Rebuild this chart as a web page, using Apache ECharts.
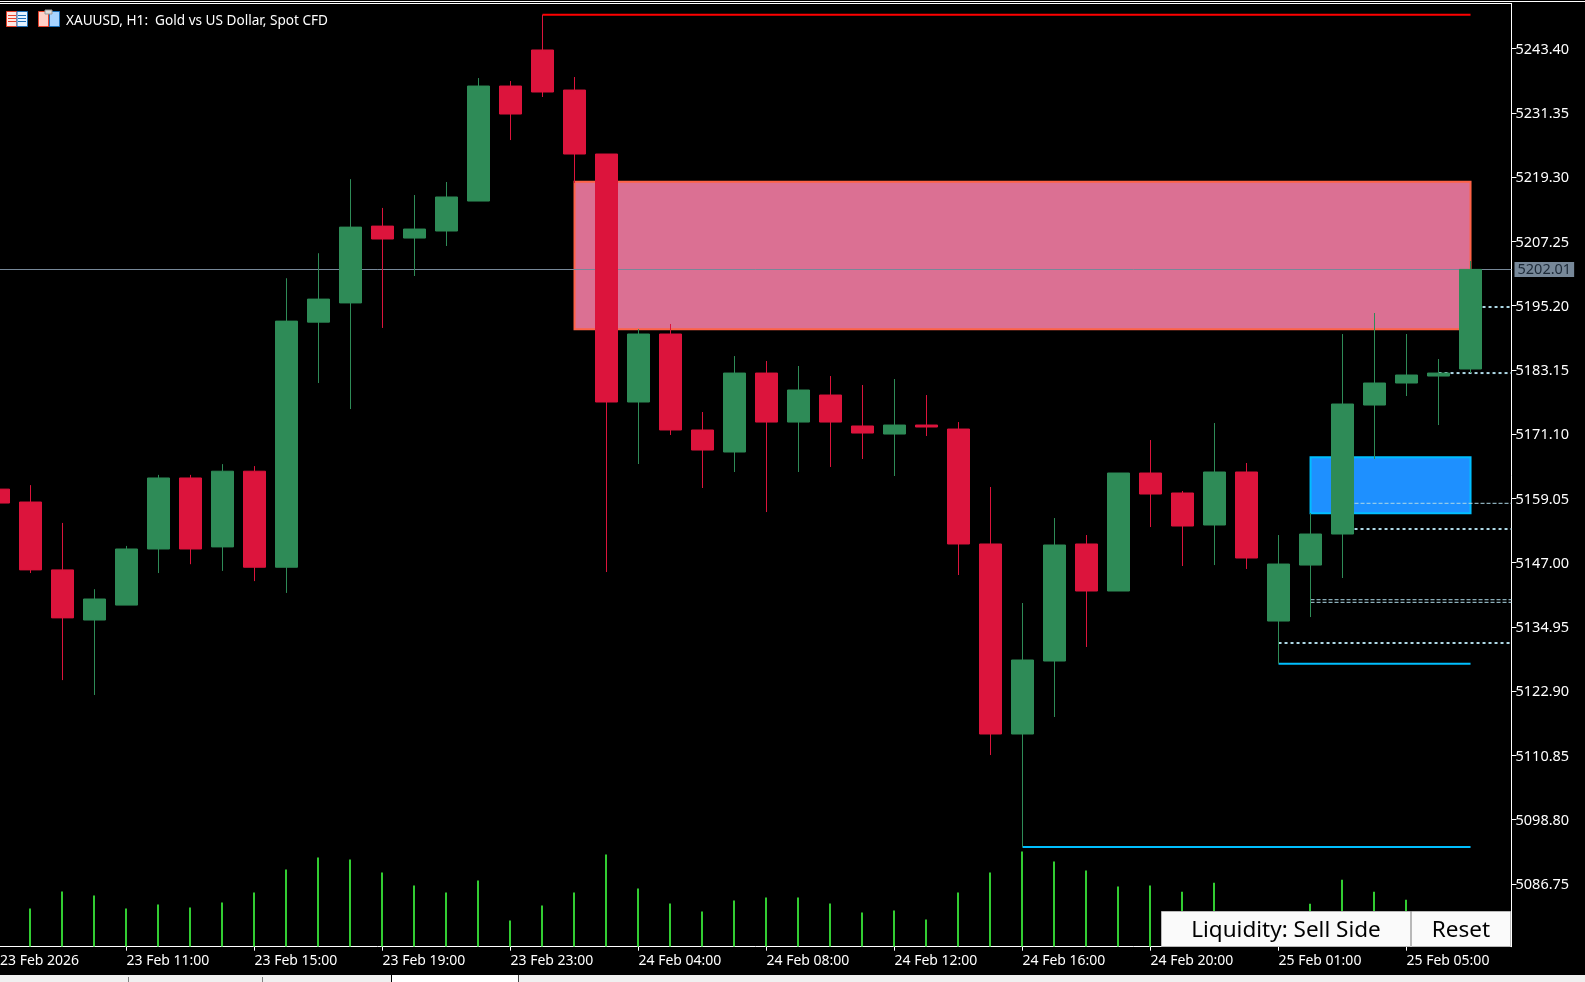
<!DOCTYPE html>
<html><head><meta charset="utf-8">
<style>html,body{margin:0;padding:0;background:#000;overflow:hidden}#c{width:1585px;height:982px}</style>
<script src="https://cdn.jsdelivr.net/npm/echarts@6/dist/echarts.min.js"></script>
</head><body><div id="c"></div>
<script>
const categories = ['23 Feb 07:00','23 Feb 08:00','23 Feb 09:00','23 Feb 10:00','23 Feb 11:00','23 Feb 12:00','23 Feb 13:00','23 Feb 14:00','23 Feb 15:00','23 Feb 16:00','23 Feb 17:00','23 Feb 18:00','23 Feb 19:00','23 Feb 20:00','23 Feb 21:00','23 Feb 22:00','23 Feb 23:00','24 Feb 01:00','24 Feb 02:00','24 Feb 03:00','24 Feb 04:00','24 Feb 05:00','24 Feb 06:00','24 Feb 07:00','24 Feb 08:00','24 Feb 09:00','24 Feb 10:00','24 Feb 11:00','24 Feb 12:00','24 Feb 13:00','24 Feb 14:00','24 Feb 15:00','24 Feb 16:00','24 Feb 17:00','24 Feb 18:00','24 Feb 19:00','24 Feb 20:00','24 Feb 21:00','24 Feb 22:00','24 Feb 23:00','25 Feb 01:00','25 Feb 02:00','25 Feb 03:00','25 Feb 04:00','25 Feb 05:00','25 Feb 06:00','25 Feb 07:00'];
const opens  = [5160.80,5158.38,5145.65,5136.25,5139.05,5149.57,5162.89,5149.96,5164.16,5146.15,5192.12,5195.72,5210.13,5207.89,5209.21,5214.83,5236.40,5243.16,5235.65,5223.65,5177.14,5189.89,5171.89,5167.76,5182.57,5173.38,5178.45,5172.64,5171.13,5172.82,5172.07,5150.51,5114.87,5128.56,5150.51,5141.69,5163.82,5160.07,5154.07,5164.01,5136.06,5146.56,5152.38,5176.57,5180.70,5182.01,5183.33];
const highs  = [5160.80,5161.55,5154.46,5142.03,5150.15,5163.47,5163.47,5165.49,5165.12,5200.35,5205.04,5218.94,5213.54,5215.96,5218.40,5237.90,5237.34,5249.78,5238.09,5223.65,5190.83,5191.77,5175.26,5185.76,5184.83,5183.89,5182.01,5180.33,5181.45,5178.45,5173.38,5161.20,5139.44,5155.38,5152.19,5163.82,5170.01,5160.45,5173.20,5165.70,5152.19,5156.32,5189.89,5193.83,5189.89,5185.20,5203.58];
const lows   = [5158.19,5145.06,5124.98,5122.19,5139.05,5145.06,5146.72,5145.46,5143.55,5141.33,5180.70,5175.82,5191.03,5200.77,5206.40,5214.83,5226.27,5234.34,5218.21,5145.25,5165.51,5170.95,5161.01,5164.01,5156.50,5164.01,5164.95,5166.45,5163.26,5170.76,5144.69,5110.93,5093.67,5118.06,5131.19,5141.69,5153.69,5146.38,5146.56,5145.82,5128.05,5136.81,5144.13,5166.45,5178.26,5172.82,5182.57];
const closes = [5158.19,5145.65,5136.65,5140.19,5149.57,5162.89,5149.57,5164.16,5146.15,5192.31,5196.44,5209.94,5207.71,5209.58,5215.59,5236.40,5231.15,5235.28,5223.65,5177.14,5189.89,5171.89,5168.13,5182.57,5173.38,5179.39,5173.38,5171.32,5172.82,5172.45,5150.51,5114.87,5128.75,5150.32,5141.69,5163.82,5159.88,5153.88,5164.01,5147.88,5146.75,5152.38,5176.76,5180.70,5182.20,5182.57,5202.01];
const volumes = [3000,3830,5530,5130,3830,4230,3930,4430,5430,7730,8930,8730,7430,6130,5430,6630,2630,4130,5430,9230,5830,4330,3530,4630,4930,4930,4330,3430,3630,2730,5430,7430,9530,8530,7630,6030,6130,5500,6400,3000,2800,4300,6700,5500,4700,3000,2500];
const priceTicks = [5243.40,5231.35,5219.30,5207.25,5195.20,5183.15,5171.10,5159.05,5147.00,5134.95,5122.90,5110.85,5098.80,5086.75];
const timeTickNames = ['23 Feb 11:00','23 Feb 15:00','23 Feb 19:00','23 Feb 23:00','24 Feb 04:00','24 Feb 08:00','24 Feb 12:00','24 Feb 16:00','24 Feb 20:00','25 Feb 01:00','25 Feb 05:00'];
const firstTimeLabel = '23 Feb 2026';
const lastPrice = 5202.01;
const priceMin = 5074.98, priceMax = 5251.88, indexMin = 0.047, indexMax = 47.28, volumeMax = 94320;
const zoneSell = {from:18, to:46, top:5218.46, bottom:5190.77};
const zoneBuy  = {from:41, to:46, top:5166.77, bottom:5156.26};
const highLine = {from:17, to:46, price:5249.78};
const lowLines = [{from:32, to:46, price:5093.67},{from:40, to:46, price:5128.05}];
const thickDots = [{from:46, price:5194.96},{from:45, price:5182.57},{from:42, price:5153.32},{from:40, price:5131.94}];
const thinDots  = [{from:42, price:5158.14},{from:41, price:5140.06},{from:41, price:5139.57}];

const FONT = '"Noto Sans", sans-serif';
const tickIdx = timeTickNames.map(n => categories.indexOf(n));
const lineSeries = (l, color, width, type, end) => ({
  type:'line', z:3, silent:true, symbol:'none', animation:false,
  data:[[l.from,l.price],[end,l.price]],
  lineStyle:{color, width, type}
});
const zoneSeries = (z, fill, border) => ({
  type:'line', z:1, silent:true, symbol:'none', data:[], animation:false,
  markArea:{silent:true, z:1, itemStyle:{color:fill, borderColor:border, borderWidth:2, opacity:1},
    data:[[{coord:[z.from,z.top]},{coord:[z.to,z.bottom]}]]}
});
const rect = (x,y,w,h,fill,stroke,z=50) => ({type:'rect', z, silent:true, shape:{x,y,width:w,height:h}, style:{fill, stroke:stroke||null, lineWidth:stroke?1:0}});
const btnText = (x,y,t) => ({type:'text', z:60, silent:true, style:{x,y,text:t,fill:'#000',font:'22.5px '+FONT,textAlign:'center',textVerticalAlign:'middle'}});
const graphic = [
  rect(0,1,1585,1,'#fff'), rect(0,3,1512,1,'#fff'),
  rect(0,975,1585,7,'#f0f0f0'),
  rect(128,977,1,5,'#808080'), rect(262,977,1,5,'#808080'),
  rect(392,975,126,7,'#fff'), rect(391,975,1,7,'#000'), rect(518,975,1,7,'#444'),
  // toolbar icons
  rect(6.5,11.5,10.5,15,'#ffe8e4','#e8402a'), rect(17,11.5,10.5,15,'#e4f2ff','#1c6fb8'),
  rect(8,15,8,1,'#e8402a'), rect(8,18,8,1,'#e8402a'), rect(8,21,8,1,'#e8402a'),
  rect(18,15,8,1,'#1c6fb8'), rect(18,18,8,1,'#1c6fb8'), rect(18,21,8,1,'#1c6fb8'),
  rect(38.5,11.5,10,15,'#ffd0c8','#e8402a'), rect(49.5,11.5,10,15,'#a8d4ff','#1c6fb8'),
  rect(45,10,7,4,'#ddd','#999'),
  // buttons
  rect(1161.5,911.5,249,35,'#fafafa','#b8b8b8',55), rect(1411.5,911.5,99,35,'#fafafa','#b8b8b8',55),
  btnText(1286,931,'Liquidity: Sell Side'), btnText(1461,931,'Reset')
];
const option = {
  backgroundColor:'#000', animation:false,
  title:{text:'XAUUSD, H1:  Gold vs US Dollar, Spot CFD', left:66, top:13,
    textStyle:{color:'#fff', fontFamily:FONT, fontSize:13.6, fontWeight:'normal', lineHeight:16}, padding:0},
  grid:{left:0, top:3.5, width:1511.5, height:943.2, containLabel:false, outerBoundsMode:'none'},
  xAxis:{type:'value', min:indexMin, max:indexMax, splitLine:{show:false},
    axisLine:{onZero:false, lineStyle:{color:'#fff', width:1}},
    axisTick:{customValues:tickIdx, length:4, lineStyle:{color:'#fff'}},
    axisLabel:{customValues:[indexMin,...tickIdx], color:'#fff', fontFamily:FONT, fontSize:14, align:'left', margin:7,
      showMinLabel:true, showMaxLabel:true,
      formatter:v => v===indexMin ? firstTimeLabel : categories[Math.round(v)]}},
  yAxis:[
    {type:'value', position:'right', min:priceMin, max:priceMax, splitLine:{show:false},
     axisLine:{show:true, onZero:false, lineStyle:{color:'#fff', width:1}},
     axisTick:{show:true, customValues:priceTicks, length:5, lineStyle:{color:'#fff'}},
     axisLabel:{customValues:priceTicks, color:'#fff', fontFamily:FONT, fontSize:14.5, margin:4, verticalAlign:'top', lineHeight:2, formatter:v=>v.toFixed(2)}},
    {type:'value', min:0, max:volumeMax, show:false}
  ],
  graphic,
  series:[
    zoneSeries(zoneSell,'#DB7093','#FF6347'),
    zoneSeries(zoneBuy,'#1E90FF','#00BFFF'),
    {type:'line', z:2, silent:true, symbol:'none', data:[], animation:false,
     markLine:{silent:true, symbol:'none', z:2, animation:false,
       lineStyle:{color:'#778899', width:1, type:'solid'},
       label:{position:'end', distance:3, color:'#1d2a38', backgroundColor:'#778899', fontFamily:FONT, fontSize:14.5,
         padding:[0,3,0,3], formatter:()=>lastPrice.toFixed(2)},
       data:[{yAxis:lastPrice}]}},
    lineSeries(highLine,'#FF0000',2,'solid',highLine.to),
    ...lowLines.map(l=>lineSeries(l,'#00BFFF',2,'solid',l.to)),
    ...thickDots.map(l=>lineSeries(l,'#ADD8E6',2,[3,3],indexMax)),
    ...thinDots.map(l=>lineSeries(l,'#ADD8E6',1,[4,2],indexMax)),
    {type:'custom', yAxisIndex:1, z:2, silent:true, animation:false, clip:true,
     data:volumes.map((v,i)=>[i,v]), encode:{x:0,y:1},
     renderItem:(p,api)=>{
       const t=api.coord([api.value(0),api.value(1)]), b=api.coord([api.value(0),0]);
       const x=Math.floor(t[0]);
       return {type:'rect', shape:{x:x-1,y:t[1],width:2,height:b[1]-t[1]}, style:{fill:'#32CD32'}};
     }},
    {type:'candlestick', z:5, barWidth:22, silent:true, animation:false,
     encode:{x:0, y:[1,2,3,4]},
     itemStyle:{color:'#2E8B57', color0:'#DC143C', borderColor:'#2E8B57', borderColor0:'#DC143C', borderWidth:1},
     data:categories.map((c,i)=>[i,opens[i],closes[i],lows[i],highs[i]])}
  ]
};
echarts.init(document.getElementById('c'),null,{renderer:'canvas'}).setOption(option);
</script></body></html>
